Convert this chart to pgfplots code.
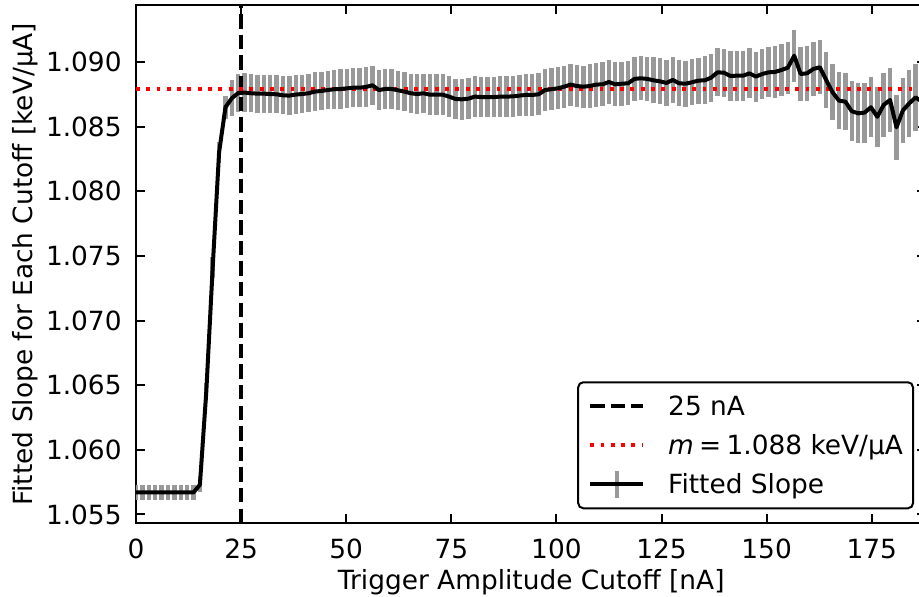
\documentclass[border=0pt]{standalone}
\usepackage{fontspec}
\setmainfont{DejaVu Sans}
\usepackage{pgfplots}
\usepackage{pgfplotstable}
\pgfplotsset{compat=1.18}
\definecolor{barGray}{RGB}{153,153,153}
\definecolor{mplRed}{RGB}{255,0,0}

\pgfplotstableread{
x y e
0 1.0567 0.0006
1.52 1.0567 0.0006
3.04 1.0567 0.0006
4.56 1.0567 0.0006
6.08 1.0567 0.0006
7.60 1.0567 0.0006
9.12 1.0567 0.0006
10.64 1.0567 0.0006
12.16 1.0567 0.0006
13.68 1.0567 0.0006
15.20 1.0573 0.0006
16.72 1.0645 0.0007
18.24 1.0741 0.0008
19.76 1.0830 0.0008
21.28 1.0865 0.0009
22.80 1.0872 0.0014
24.32 1.0876 0.00148
25.84 1.08763 0.00148
27.36 1.08758 0.00148
28.88 1.08755 0.00148
30.40 1.08755 0.00148
31.92 1.08752 0.00148
33.44 1.08750 0.00148
34.96 1.08742 0.00148
36.48 1.08740 0.00148
38.00 1.08748 0.00148
39.52 1.08752 0.00148
41.04 1.08758 0.00148
42.56 1.08771 0.00148
44.08 1.08776 0.00148
45.60 1.08783 0.00148
47.12 1.08789 0.00152
48.64 1.08791 0.00152
50.16 1.08796 0.00152
51.68 1.08801 0.00152
53.20 1.08801 0.00152
54.72 1.08807 0.00152
56.24 1.08820 0.00152
57.76 1.08783 0.00152
59.28 1.08791 0.00152
60.80 1.08791 0.00152
62.32 1.08781 0.00152
63.84 1.08771 0.00152
65.36 1.08758 0.00152
66.88 1.08752 0.00152
68.40 1.08758 0.00152
69.92 1.08747 0.00158
71.44 1.08747 0.00158
72.96 1.08747 0.00158
74.48 1.08732 0.00158
76.00 1.08714 0.00158
77.52 1.08711 0.00158
79.04 1.08716 0.00158
80.56 1.08732 0.00158
82.08 1.08729 0.00158
83.60 1.08729 0.00158
85.12 1.08729 0.00158
86.64 1.08732 0.00158
88.16 1.08732 0.00158
89.68 1.08734 0.00158
91.20 1.08740 0.00158
92.72 1.08745 0.00163
94.24 1.08745 0.00163
95.76 1.08750 0.00163
97.28 1.08783 0.00163
98.80 1.08789 0.00163
100.32 1.08796 0.00163
101.84 1.08809 0.00163
103.36 1.08825 0.00163
104.88 1.08814 0.00163
106.40 1.08809 0.00163
107.92 1.08814 0.0017
109.44 1.08825 0.0017
110.96 1.08827 0.0017
112.48 1.08845 0.0017
114.00 1.08827 0.0017
115.52 1.08832 0.0017
117.04 1.08835 0.0017
118.56 1.08869 0.0017
120.08 1.08874 0.0017
121.60 1.08869 0.0017
123.12 1.08858 0.00178
124.64 1.08850 0.00178
126.16 1.08838 0.00178
127.68 1.08861 0.00178
129.20 1.08835 0.00178
130.72 1.08832 0.00178
132.24 1.08843 0.00178
133.76 1.08856 0.00178
135.28 1.08858 0.00185
136.80 1.08879 0.00185
138.32 1.08920 0.00185
139.84 1.08917 0.00187
141.36 1.08892 0.00193
142.88 1.08894 0.00193
144.40 1.08894 0.00193
145.92 1.08912 0.00193
147.44 1.08887 0.00193
148.96 1.08907 0.00193
150.48 1.08920 0.00193
152.00 1.08923 0.0020
153.52 1.08938 0.0020
155.04 1.08956 0.0020
156.56 1.09049 0.0020
158.08 1.08907 0.0021
159.60 1.08912 0.0021
161.12 1.08946 0.0021
162.64 1.08959 0.0021
164.16 1.08860 0.00217
165.68 1.08765 0.00217
167.20 1.08701 0.00223
168.72 1.08693 0.00223
170.24 1.08619 0.00233
171.76 1.08603 0.00233
173.28 1.08608 0.00233
174.80 1.08650 0.00233
176.32 1.08576 0.00233
177.84 1.08668 0.00245
179.36 1.08706 0.00245
180.88 1.08494 0.00252
182.40 1.08625 0.00252
183.92 1.08680 0.00258
185.44 1.08726 0.00258
186.96 1.08693 0.00258
}\slopedata

\begin{document}
\begin{tikzpicture}[font=\fontsize{13.2}{16}\selectfont]
\begin{axis}[
  name=ax,
  scale only axis,
  width=395.2pt, height=258.75pt,
  xmin=0, xmax=188,
  ymin=1.05434, ymax=1.09437,
  xtick={0,25,50,75,100,125,150,175},
  xticklabels={0,25,50,75,100,125,150,175},
  ytick={1.055,1.060,1.065,1.070,1.075,1.080,1.085,1.090},
  yticklabels={1.055,1.060,1.065,1.070,1.075,1.080,1.085,1.090},
  tick align=inside,
  tick pos=both,
  major tick length=4.5pt,
  every tick/.style={black, line width=1pt},
  axis line style={black, line width=1pt},
  xticklabel style={inner sep=0pt, anchor=north, yshift=-7.8pt},
  yticklabel style={inner sep=0pt, anchor=east, xshift=-7pt},
  xlabel={Trigger Amplitude Cutoff [nA]},
  ylabel={Fitted Slope for Each Cutoff [keV/µA]},
  every axis x label/.style={at={(axis description cs:0.5,0)}, anchor=north, inner sep=0pt, yshift=-23pt},
  every axis y label/.style={at={(axis description cs:-0.123,0.5)}, rotate=90, anchor=south, inner sep=0pt},
  legend image code/.code={\draw[#1] (0pt,0pt) -- (26.5pt,0pt);},
  legend cell align=left,
  legend style={at={(axis description cs:0.9843,0.0265)}, anchor=south east,
    draw=black, line width=1pt, rounded corners=2.5pt, fill=white,
    inner xsep=5pt, inner ysep=6.8pt, row sep=9.1pt,
    nodes={inner sep=0pt, text height=9.8pt, text depth=0.6pt},
    /tikz/every odd column/.append style={column sep=11.5pt}},
]
\addplot[forget plot, draw=none, mark=none,
  error bars/.cd, y dir=both, y explicit, error mark=none,
  error bar style={draw=barGray, line width=2.2pt, solid}]
  table[x=x, y=y, y error=e] {\slopedata};
\addplot[black, line width=2pt, dash pattern=on 7.2pt off 3.1pt, mark=none]
  coordinates {(25,1.05434) (25,1.09437)};
\addlegendentry{25 nA}
\addplot[mplRed, line width=1.95pt, dash pattern=on 1.95pt off 3.2pt, mark=none]
  coordinates {(0,1.0879) (188,1.0879)};
\addlegendentry{\textit{m}\hspace{0.2em}=\hspace{0.2em}1.088 keV/µA}
\addplot[black, line width=2pt, line join=round, mark=none,
  legend image code/.code={%
    \draw[overlay, barGray, line width=2.2pt] (13.25pt,-6.7pt) -- (13.25pt,6.7pt);
    \draw[black, line width=2pt] (0pt,0pt) -- (26.5pt,0pt);}]
  table[x=x, y=y] {\slopedata};
\addlegendentry{Fitted Slope}
\end{axis}
\pgfresetboundingbox
\path[use as bounding box] ([xshift=-68pt,yshift=-37pt]ax.south west) rectangle ([xshift=391.5pt,yshift=261.5pt]ax.south west);
\end{tikzpicture}
\end{document}
